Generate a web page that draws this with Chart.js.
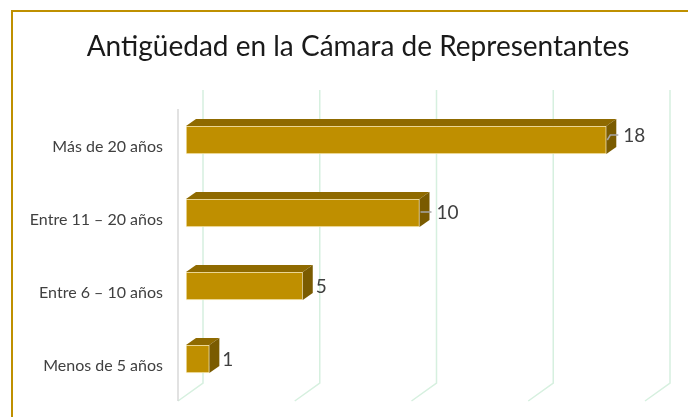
<!DOCTYPE html>
<html>
<head>
<meta charset="utf-8">
<script src="https://cdn.jsdelivr.net/npm/chart.js@4/dist/chart.umd.min.js"></script>
<style>
  html, body { margin: 0; padding: 0; background: #fff; }
  #wrap { width: 688px; height: 417px; }
</style>
</head>
<body>
<div id="wrap"><canvas id="myChart" width="688" height="417"></canvas></div>
<script>
const chartTitle = 'Antigüedad en la Cámara de Representantes';
const categories = ['Más de 20 años', 'Entre 11 – 20 años', 'Entre 6 – 10 años', 'Menos de 5 años'];
const values = [18, 10, 5, 1];
const gridValues = [0, 5, 10, 15, 20];
const leaderLines = [true, true, false, false];

const depthX = 10, depthY = -7;

// border, title, back wall + floor gridlines, 3D faces and value labels
const decor = {
  id: 'decor',
  beforeDraw(chart) {
    const ctx = chart.ctx;
    ctx.save();
    ctx.strokeStyle = '#BF9000';
    ctx.lineWidth = 2;
    ctx.strokeRect(12, 11, 700, 420);
    ctx.fillStyle = '#1a1a1a';
    ctx.font = '28px Lato';
    ctx.textAlign = 'center';
    ctx.textBaseline = 'middle';
    ctx.fillText(chartTitle, 358, 47);
    ctx.restore();
  },
  beforeDatasetsDraw(chart) {
    const ctx = chart.ctx;
    const xs = chart.scales.x;
    ctx.save();
    ctx.lineWidth = 1.5;
    ctx.strokeStyle = '#d6f0df';
    gridValues.forEach(v => {
      const bx = xs.getPixelForValue(v) + 17;
      ctx.beginPath();
      ctx.moveTo(bx, 90);
      ctx.lineTo(bx, 383);
      ctx.lineTo(bx - 25, 401);
      ctx.stroke();
    });
    ctx.strokeStyle = '#d9d9d9';
    ctx.beginPath();
    ctx.moveTo(178, 109);
    ctx.lineTo(178, 401);
    ctx.stroke();
    ctx.restore();
  },
  afterDatasetsDraw(chart) {
    const ctx = chart.ctx;
    const meta = chart.getDatasetMeta(0);
    ctx.save();
    meta.data.forEach((bar, i) => {
      const top = bar.y - bar.height / 2;
      const bottom = bar.y + bar.height / 2;
      // top face
      ctx.fillStyle = '#8F6A00';
      ctx.beginPath();
      ctx.moveTo(bar.base, top);
      ctx.lineTo(bar.x, top);
      ctx.lineTo(bar.x + depthX, top + depthY);
      ctx.lineTo(bar.base + depthX, top + depthY);
      ctx.closePath();
      ctx.fill();
      // side face
      ctx.fillStyle = '#7A5B00';
      ctx.beginPath();
      ctx.moveTo(bar.x, top);
      ctx.lineTo(bar.x + depthX, top + depthY);
      ctx.lineTo(bar.x + depthX, bottom + depthY);
      ctx.lineTo(bar.x, bottom);
      ctx.closePath();
      ctx.fill();
      let lx = bar.x + depthX + 3;
      let ly = bar.y + 1;
      // leader line
      if (leaderLines[i]) {
        const bend = i === 0 ? 5 : 1;
        ctx.strokeStyle = '#a6a6a6';
        ctx.lineWidth = 1.5;
        ctx.beginPath();
        ctx.moveTo(bar.x + 1, bar.y + (i === 0 ? 0 : -1));
        ctx.lineTo(bar.x + 4, bar.y - bend);
        ctx.lineTo(bar.x + depthX + 2, bar.y - bend);
        ctx.stroke();
        lx = bar.x + depthX + 7;
        ly = bar.y - bend + 1;
      }
      // value label
      ctx.fillStyle = '#404040';
      ctx.font = '19px Lato';
      ctx.textAlign = 'left';
      ctx.textBaseline = 'middle';
      ctx.fillText(String(values[i]), lx, ly);
    });
    ctx.restore();
  }
};

const data = {
  labels: categories,
  datasets: [{
    label: 'Antigüedad',
    data: values,
    backgroundColor: '#BF8F00',
    borderColor: 'rgba(250,235,190,0.9)',
    borderWidth: 1,
    borderSkipped: false,
    barThickness: 28
  }]
};

const config = {
  type: 'bar',
  data: data,
  options: {
    indexAxis: 'y',
    responsive: false,
    animation: false,
    layout: { padding: { left: 12, right: 35, top: 103.5, bottom: 21.5 } },
    plugins: {
      legend: { display: false },
      tooltip: { enabled: false },
      title: { display: false }
    },
    scales: {
      x: { display: false, min: 0, max: 20 },
      y: {
        afterFit(scale) {
          scale.width = 174;
          scale.paddingTop = 0;
          scale.paddingBottom = 0;
        },
        grid: { display: false, drawTicks: false },
        border: { display: false },
        ticks: {
          padding: 23,
          labelOffset: 7,
          color: '#404040',
          font: { family: 'Lato', size: 16 }
        }
      }
    }
  },
  plugins: [decor]
};

const myChart = new Chart(document.getElementById('myChart'), config);
</script>
</body>
</html>
